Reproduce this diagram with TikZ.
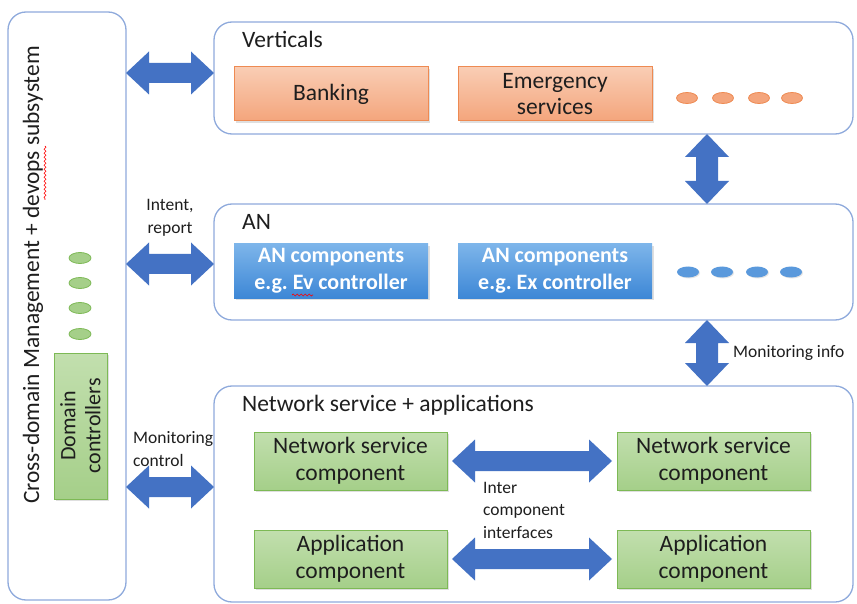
\documentclass[tikz,border=0pt]{standalone}
\usepackage{fontspec}
\setmainfont{Carlito}
\usetikzlibrary{shadows,calc,decorations.pathmorphing,shapes.geometric}
\frenchspacing
\definecolor{frame}{HTML}{8FAADC}
\definecolor{arrowblue}{HTML}{4472C4}
\definecolor{orfill1}{HTML}{F9CDB4}
\definecolor{orfill2}{HTML}{F4A57C}
\definecolor{ordraw}{HTML}{EE8A52}
\definecolor{blfill1}{HTML}{7DB5EA}
\definecolor{blfill2}{HTML}{3D87D6}
\definecolor{grfill1}{HTML}{C2DFAE}
\definecolor{grfill2}{HTML}{A5CF89}
\definecolor{grdraw}{HTML}{7DB955}
\definecolor{txt}{HTML}{1E1E1E}
\newcommand{\sz}[2]{\fontsize{#1}{#2}\selectfont}
\newcommand{\harrow}[2]{\fill[arrowblue] let \p1=#1, \p2=#2 in
  (\x1,\y1) -- (\x1+23pt,\y1+21.5pt) -- (\x1+23pt,\y1+10pt) -- (\x2-23pt,\y1+10pt) -- (\x2-23pt,\y1+21.5pt)
  -- (\x2,\y1) -- (\x2-23pt,\y1-21.5pt) -- (\x2-23pt,\y1-10pt) -- (\x1+23pt,\y1-10pt) -- (\x1+23pt,\y1-21.5pt) -- cycle;}
\newcommand{\varrow}[2]{\fill[arrowblue] let \p1=#1, \p2=#2 in
  (\x1,\y1) -- (\x1+22pt,\y1-23pt) -- (\x1+11pt,\y1-23pt) -- (\x1+11pt,\y2+23pt) -- (\x1+22pt,\y2+23pt)
  -- (\x1,\y2) -- (\x1-22pt,\y2+23pt) -- (\x1-11pt,\y2+23pt) -- (\x1-11pt,\y1-23pt) -- (\x1-22pt,\y1-23pt) -- cycle;}
\tikzset{
  container/.style={draw=frame, line width=1.3pt, rounded corners=18pt, fill=white, inner sep=0pt, outer sep=0pt},
  orbox/.style={draw=ordraw, line width=1pt, top color=orfill1, bottom color=orfill2, inner sep=0pt, outer sep=0pt,
    minimum width=194pt, minimum height=54pt, align=center, text=txt, font=\sz{23.5}{26},
    drop shadow={opacity=0.25, shadow xshift=2pt, shadow yshift=-2pt}},
  blbox/.style={top color=blfill1, bottom color=blfill2, inner sep=0pt, outer sep=0pt,
    minimum width=194pt, minimum height=54pt, align=center, text=white, font=\sz{22}{27}\bfseries,
    drop shadow={opacity=0.25, shadow xshift=2pt, shadow yshift=-2pt}},
  grbox/.style={draw=grdraw, line width=1pt, top color=grfill1, bottom color=grfill2, inner sep=0pt, outer sep=0pt,
    minimum width=193pt, minimum height=58pt, align=center, text=txt, font=\sz{23.5}{27},
    drop shadow={opacity=0.25, shadow xshift=2pt, shadow yshift=-2pt}},
  ordot/.style={ellipse, draw=ordraw, fill=orfill2, line width=0.8pt, minimum width=21pt, minimum height=11pt, inner sep=0pt},
  bldot/.style={ellipse, fill=blfill2!85!white, minimum width=22pt, minimum height=11pt, inner sep=0pt,
    drop shadow={opacity=0.2, shadow xshift=1pt, shadow yshift=-1pt}},
  grdot/.style={ellipse, draw=grdraw, fill=grfill2, line width=0.8pt, minimum width=22pt, minimum height=11pt, inner sep=0pt},
  title/.style={anchor=west, inner sep=0pt, text=txt, font=\sz{23.5}{26}},
  small/.style={inner sep=0pt, text=txt, font=\sz{17.5}{23}, align=left},
  squig/.style={draw=red, line width=0.7pt, decorate, decoration={snake, amplitude=1pt, segment length=4pt}}
}
\begin{document}
\begin{tikzpicture}[x=1pt, y=-1pt]
\useasboundingbox (0,0) rectangle (857,604);
\fill[white] (0,0) rectangle (857,604);

% containers
\node[container, minimum width=118pt, minimum height=588pt] (L) at (67,306) {};
\node[container, minimum width=639pt, minimum height=112pt] (V) at (533.5,78) {};
\node[container, minimum width=639pt, minimum height=116pt] (AN) at (533.5,262) {};
\node[container, minimum width=639pt, minimum height=216pt] (NS) at (533.5,494) {};

% left side
\node[rotate=90, inner sep=0pt, text=txt, font=\sz{23.4}{26}] (ltitle) at (33,275) {Cross-domain Management + devops subsystem};
\draw[squig] (45,146) -- (45,200);
\node[grdot] (g1) at (80,258) {};
\node[grdot] (g2) at (80,283) {};
\node[grdot] (g3) at (80,308) {};
\node[grdot] (g4) at (80,334) {};
\node[draw=grdraw, line width=1pt, top color=grfill1, bottom color=grfill2, inner sep=0pt,
  minimum width=53pt, minimum height=146pt,
  drop shadow={opacity=0.25, shadow xshift=2pt, shadow yshift=-2pt}] (DCbox) at (80.5,426) {};
\node[rotate=90, align=center, text=txt, font=\sz{22}{25}, inner sep=0pt] (DC) at (DCbox.center) {Domain\\controllers};

% Verticals
\node[title] (vlab) at (242,39) {Verticals};
\node[orbox] (bank) at (331,94) {Banking};
\node[orbox] (emer) at (555,94) {Emergency\\services};
\node[ordot] (o1) at (687,98) {};
\node[ordot] (o2) at (723,98) {};
\node[ordot] (o3) at (759,98) {};
\node[ordot] (o4) at (792,98) {};

% AN
\node[title] (anlab) at (242,222) {AN};
\node[blbox] (an1) at (331,271) {AN components\\e.g. Ev controller};
\node[blbox] (an2) at (555,271) {AN components\\e.g. Ex controller};
\draw[squig] (292,295) -- (313,295);
\node[bldot] (b1) at (688,272) {};
\node[bldot] (b2) at (722,272) {};
\node[bldot] (b3) at (757,272) {};
\node[bldot] (b4) at (791,272) {};

% Network service + applications
\node[title] (nslab) at (242,405) {Network service + applications};
\node[grbox] (nsc1) at (350.5,461) {Network service\\component};
\node[grbox] (nsc2) at (713.5,461) {Network service\\component};
\node[grbox] (ac1) at (350.5,559) {Application\\component};
\node[grbox] (ac2) at (713.5,559) {Application\\component};
\node[small, anchor=west, font=\sz{17.5}{22.5}] (ici) at (483,510) {Inter\\component\\interfaces};

% arrows
\harrow{(L.east |- 0,73)}{(V.west |- 0,73)}
\harrow{(L.east |- 0,264)}{(AN.west |- 0,264)}
\harrow{(L.east |- 0,487)}{(NS.west |- 0,487)}
\harrow{($(nsc1.east)+(5,0)$)}{($(nsc2.west)+(-5,0)$)}
\harrow{($(ac1.east)+(5,0)$)}{($(ac2.west)+(-5,0)$)}
\varrow{(V.south -| 707,0)}{(AN.north -| 707,0)}
\varrow{(AN.south -| 707,0)}{(NS.north -| 707,0)}

% arrow labels
\node[small, align=center] (intent) at (170,218) {Intent,\\report};
\node[small, anchor=west] (monctl) at (133,449) {Monitoring\\control};
\node[small, anchor=west] (moninfo) at (733,353) {Monitoring info};
\end{tikzpicture}
\end{document}
